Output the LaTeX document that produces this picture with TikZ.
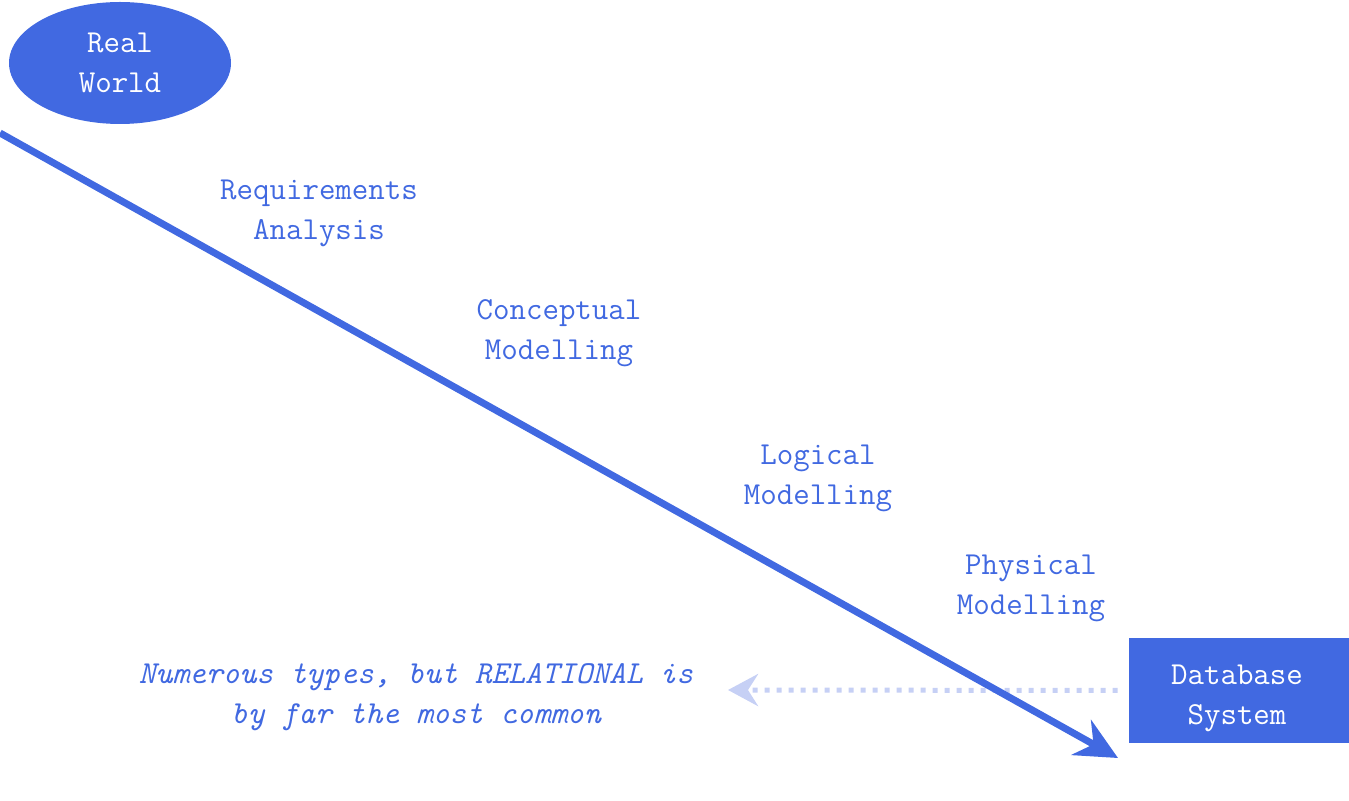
\documentclass[tikz,border=0pt]{standalone}
\usepackage{fontspec}
\usepackage{xcolor}
\usepackage{tikz}
\usetikzlibrary{arrows.meta,shapes.geometric,positioning}
\definecolor{royal}{HTML}{4169E1}
\definecolor{paleroyal}{HTML}{C6D0F5}

\begin{document}
\begin{tikzpicture}[x=0.5pt,y=-0.5pt,
	every node/.style={font=\ttfamily\fontsize{16}{20}\selectfont, align=center},
	stage/.style={text=royal},
	blob/.style={fill=royal, text=white, inner sep=0pt}]
\useasboundingbox (0,0) rectangle (1349,801);

\node[blob, ellipse, minimum width=111pt, minimum height=61pt] (world) at (120,63) {Real\\World};
\node[blob, rectangle, minimum width=110pt, minimum height=52.5pt] (dbs) at (1239,690.5) {};
\node[text=white] (dbstext) at (1237,698) {Database\\System};

\node[stage] (req) at (319,213) {Requirements\\Analysis};
\node[stage] (concept) at (559,333) {Conceptual\\Modelling};
\node[stage] (logic) at (818,478) {Logical\\Modelling};
\node[stage] (phys) at (1031,588) {Physical\\Modelling};

\node[stage, font=\ttfamily\itshape\fontsize{16}{20}\selectfont] (note) at (416,697) {Numerous types, but RELATIONAL is\\by far the most common};

\coordinate (top) at (0,133);
\coordinate (tip) at (1118,758);
\coordinate (back) at (728,690);

\draw[paleroyal, line width=2.5pt, dash pattern=on 2.5pt off 3.5pt, shorten <=5.5pt,
	-{Stealth[length=15pt, width=16pt, inset=5pt]}] (dbs.west) -- (back);
\draw[royal, line width=3.5pt, -{Stealth[length=21pt, width=20pt, inset=7pt]}] (top) -- (tip);

\end{tikzpicture}
\end{document}
